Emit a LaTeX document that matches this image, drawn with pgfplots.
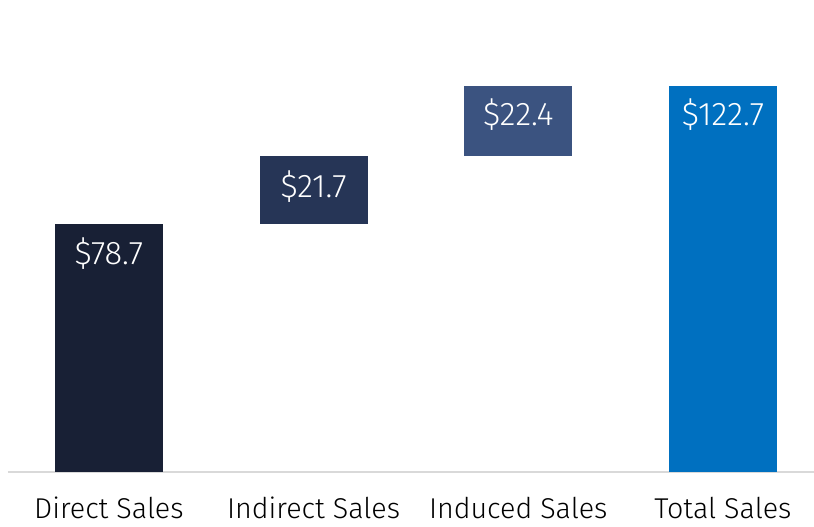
\documentclass[border=0pt]{standalone}
\usepackage{fontspec}
\setmainfont{Fira Sans Light}
\usepackage{pgfplots}
\pgfplotsset{compat=1.18}
\definecolor{directc}{HTML}{182035}
\definecolor{indirectc}{HTML}{263556}
\definecolor{inducedc}{HTML}{3B5380}
\definecolor{totalc}{HTML}{0070C0}
\definecolor{basegray}{HTML}{D9D9D9}
\begin{document}
\begin{tikzpicture}
\useasboundingbox (0,-41.25pt) rectangle (610.5pt,354pt);
\begin{axis}[
  at={(6pt,0pt)}, anchor=south west,
  width=604.5pt, height=354pt, scale only axis,
  ybar stacked, bar width=81pt,
  xmin=-0.493, xmax=3.445, ymin=0, ymax=150,
  axis x line*=bottom, axis y line=none,
  x axis line style={draw=basegray, line width=1.5pt},
  xtick={0,1,2,3}, major tick length=0pt,
  xticklabels={Direct Sales,Indirect Sales,Induced Sales,Total Sales},
  xticklabel style={font=\fontsize{21.5}{26}\selectfont, yshift=-15pt, text=black},
  point meta=explicit symbolic,
  nodes near coords={\pgfplotspointmeta},
  every node near coord/.append style={anchor=center,
    text=white, font=\fontsize{24.5}{29}\selectfont},
  clip=false]
\addplot[fill=none, draw=none, nodes near coords={}] coordinates
  {(0,0)[{}] (1,78.7)[{}] (2,100.4)[{}] (3,0)[{}]};
\addplot[fill=directc, draw=none,
  every node near coord/.append style={yshift=71.1pt}] coordinates
  {(0,78.7)[\$78.7] (1,0)[{}] (2,0)[{}] (3,0)[{}]};
\addplot[fill=indirectc, draw=none,
  every node near coord/.append style={yshift=2.5pt}] coordinates
  {(0,0)[{}] (1,21.7)[\$21.7] (2,0)[{}] (3,0)[{}]};
\addplot[fill=inducedc, draw=none,
  every node near coord/.append style={yshift=4.7pt}] coordinates
  {(0,0)[{}] (1,0)[{}] (2,22.4)[\$22.4] (3,0)[{}]};
\addplot[fill=totalc, draw=none,
  every node near coord/.append style={yshift=123pt}] coordinates
  {(0,0)[{}] (1,0)[{}] (2,0)[{}] (3,122.7)[\$122.7]};
\end{axis}
\end{tikzpicture}
\end{document}
